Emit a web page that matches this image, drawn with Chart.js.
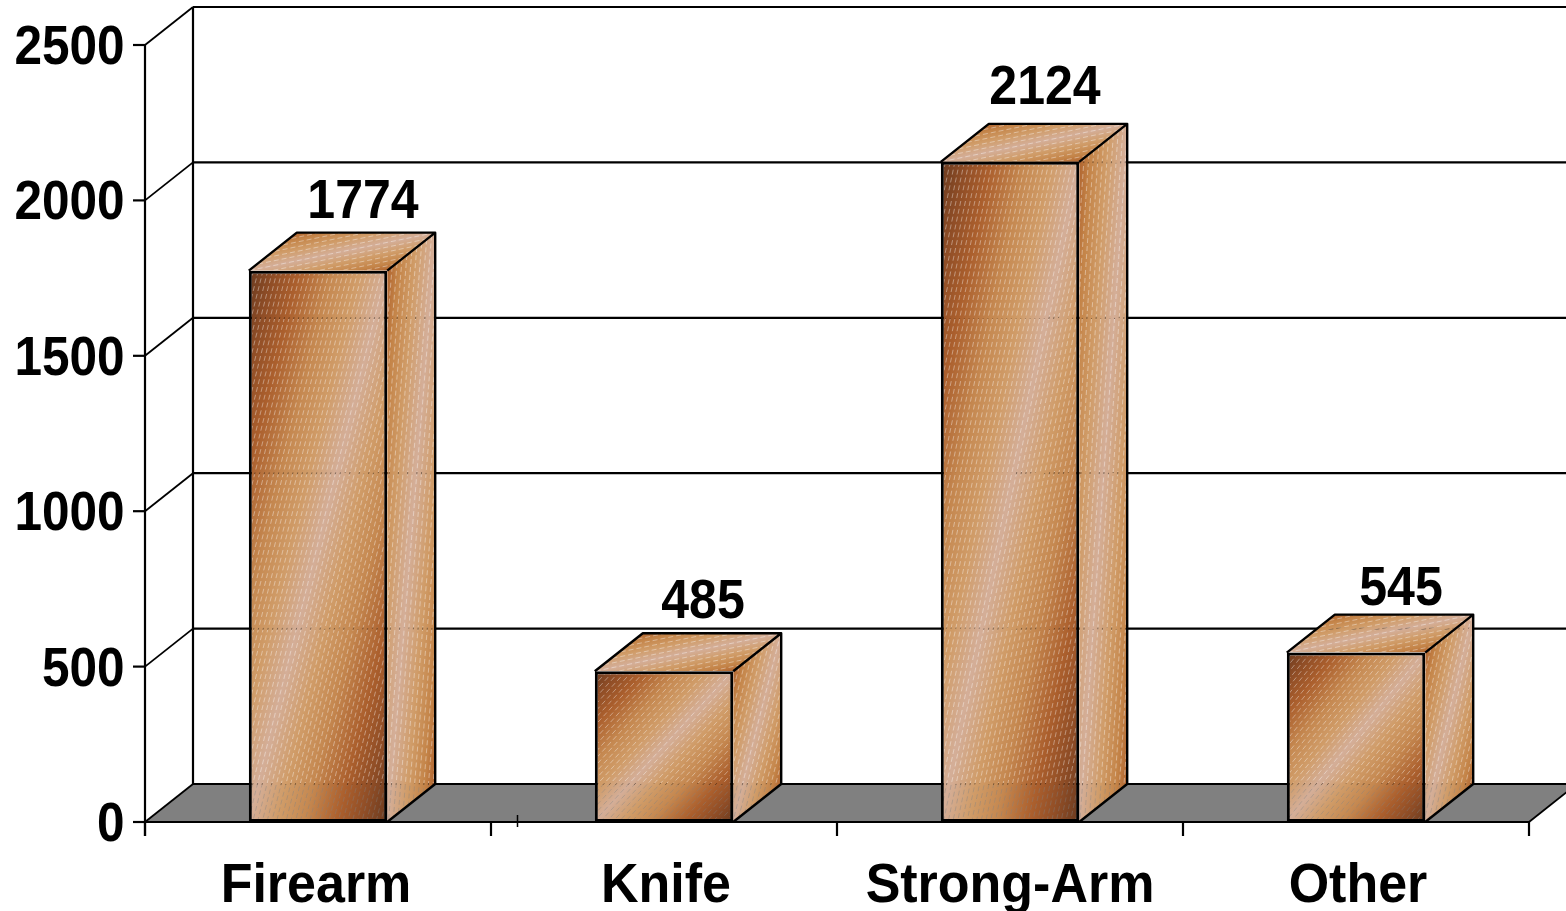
<!DOCTYPE html>
<html>
<head>
<meta charset="utf-8">
<style>html,body{margin:0;padding:0;background:#fff}canvas{display:block}</style>
<script src="https://cdn.jsdelivr.net/npm/chart.js@4"></script>
</head>
<body>
<canvas id="c" width="1566" height="911"></canvas>
<script>
const categories = ['Firearm', 'Knife', 'Strong-Arm', 'Other'];
const values = [1774, 485, 2124, 545];
const yTicks = [0, 500, 1000, 1500, 2000, 2500];

const DX = 48, DY = 38, BAR_PCT = 0.4;
const FONT = 'bold 55px "Liberation Sans", Arial, sans-serif';
const valueLabelShift = [[45, 0], [39, 0], [35, -5], [45, 5]];
const categoryShift = [-2, 2, 0, 2];
const frontStops = [[0, '#6a3a1f'], [.09, '#8f4d26'], [.18, '#ab5f2d'], [.3, '#c58850'], [.4, '#d09c68'], [.5, '#d4ae98'], [.6, '#d09c68'], [.7, '#c58850'], [.82, '#ab5f2d'], [.91, '#8f4d26'], [1, '#6a3a1f']];
const faceStops = [[0, '#b0642f'], [.12, '#c48448'], [.3, '#d09c68'], [.5, '#d4ae98'], [.7, '#d09c68'], [.88, '#c48448'], [1, '#b0642f']];

function paintFace(g, p00, p10, p01, stops) {
  const u = [p10[0] - p00[0], p10[1] - p00[1]], v = [p01[0] - p00[0], p01[1] - p00[1]];
  g.save();
  g.beginPath();
  g.moveTo(p00[0], p00[1]); g.lineTo(p10[0], p10[1]);
  g.lineTo(p10[0] + v[0], p10[1] + v[1]); g.lineTo(p01[0], p01[1]);
  g.closePath(); g.clip();
  g.save();
  g.transform(u[0], u[1], v[0], v[1], p00[0], p00[1]);
  const gr = g.createLinearGradient(0, 0, 1, 1);
  stops.forEach(s => gr.addColorStop(s[0], s[1]));
  g.fillStyle = gr;
  g.fillRect(0, 0, 1, 1);
  g.restore();
  // dashes are holes in the face: whatever lies behind shows through them
  const at = (a, b) => [p00[0] + a * u[0] + b * v[0], p00[1] + a * u[1] + b * v[1]];
  const cross = Math.abs(u[0] * v[1] - u[1] * v[0]);
  const ds = 4.6 * Math.hypot(u[0] - v[0], u[1] - v[1]) / cross;
  g.globalCompositeOperation = 'destination-out';
  g.strokeStyle = 'rgba(0,0,0,.38)';
  g.lineWidth = 1;
  g.setLineDash([5, 3]);
  for (let s = ds; s < 2; s += ds) {
    const a = s <= 1 ? at(s, 0) : at(1, s - 1), b = s <= 1 ? at(0, s) : at(s - 1, 1);
    g.beginPath(); g.moveTo(a[0], a[1]); g.lineTo(b[0], b[1]); g.stroke();
  }
  g.restore();
}

function layer(chart) {
  const cv = document.createElement('canvas');
  cv.width = chart.width; cv.height = chart.height;
  return cv;
}

const frontCache = {};
function frontFill(ctx) {
  if (ctx.type !== 'data') return 'transparent';
  const chart = ctx.chart, x = chart.scales.x, y = chart.scales.y;
  if (!x || !y || !chart.chartArea) return 'transparent';
  const w = (x.getPixelForValue(1) - x.getPixelForValue(0)) * BAR_PCT;
  const cx = x.getPixelForValue(ctx.dataIndex), top = y.getPixelForValue(values[ctx.dataIndex]), base = y.getPixelForValue(0);
  const key = [cx, top, base, w].join();
  if (frontCache[key]) return frontCache[key];
  const cv = layer(chart);
  paintFace(cv.getContext('2d'), [cx - w / 2, top], [cx + w / 2, top], [cx - w / 2, base], frontStops);
  return (frontCache[key] = chart.ctx.createPattern(cv, 'no-repeat'));
}

function line(g, x1, y1, x2, y2, lw) {
  g.lineWidth = lw;
  g.beginPath(); g.moveTo(x1, y1); g.lineTo(x2, y2); g.stroke();
}

function squeezedText(g, text, x, baseline, align, squeeze) {
  g.save();
  g.font = FONT; g.fillStyle = '#000'; g.textAlign = align; g.textBaseline = 'alphabetic';
  g.translate(x, baseline); g.scale(squeeze, 1);
  g.fillText(text, 0, 0);
  g.restore();
}

const box3d = {
  id: 'box3d',
  beforeDatasetsDraw(chart) {
    const g = chart.ctx, X = chart.scales.x, Y = chart.scales.y;
    const L = X.left, R = X.right, y0 = Y.getPixelForValue(0), yMax = Y.getPixelForValue(yTicks[yTicks.length - 1]);
    g.save();
    g.strokeStyle = '#000';
    // floor
    g.fillStyle = '#808080';
    g.beginPath();
    g.moveTo(L, y0); g.lineTo(L + DX, y0 - DY); g.lineTo(R + DX, y0 - DY); g.lineTo(R, y0); g.closePath(); g.fill();
    // walls, grid and tick marks
    yTicks.forEach(t => {
      const py = Y.getPixelForValue(t);
      line(g, L - 12, py, L, py, 2.2);
      line(g, L, py, L + DX, py - DY, 1.8);
      line(g, L + DX, py - DY, chart.width, py - DY, 2.2);
    });
    line(g, L, yMax, L, y0 + 14, 2.2);
    line(g, L + DX, yMax - DY, L + DX, y0 - DY, 2.2);
    line(g, L, y0, R, y0, 2.2);
    line(g, R, y0, R + DX, y0 - DY, 1.8);
    categories.concat(['']).forEach((c, i) => {
      const px = L + (R - L) * i / categories.length;
      line(g, px, y0, px, y0 + 14, 2.2);
    });
    line(g, 517.5, y0 - 7, 517.5, y0 + 5, 1.5);
    // side and top faces
    const cv = layer(chart), l = cv.getContext('2d');
    chart.getDatasetMeta(0).data.forEach(b => {
      const a = b.x - b.width / 2, c = b.x + b.width / 2;
      paintFace(l, [c, b.y], [c + DX, b.y - DY], [c, b.base], faceStops);
      paintFace(l, [a + DX, b.y - DY], [c + DX, b.y - DY], [a, b.y], faceStops);
    });
    g.drawImage(cv, 0, 0);
    chart.getDatasetMeta(0).data.forEach(b => {
      const a = b.x - b.width / 2, c = b.x + b.width / 2;
      g.lineWidth = 2.4; g.lineJoin = 'round';
      g.beginPath();
      g.moveTo(a, b.y); g.lineTo(a + DX, b.y - DY); g.lineTo(c + DX, b.y - DY);
      g.lineTo(c + DX, b.base - DY); g.lineTo(c, b.base);
      g.moveTo(c, b.y); g.lineTo(c + DX, b.y - DY);
      g.stroke();
    });
    g.restore();
  },
  afterDatasetsDraw(chart) {
    const g = chart.ctx, X = chart.scales.x, Y = chart.scales.y;
    yTicks.forEach(t => squeezedText(g, String(t), 124.5, Y.getPixelForValue(t) + 19, 'right', 0.9));
    categories.forEach((c, i) => squeezedText(g, c, X.getPixelForValue(i) + categoryShift[i], Y.bottom + 80, 'center', 0.945));
    chart.getDatasetMeta(0).data.forEach((b, i) => {
      const s = valueLabelShift[i];
      squeezedText(g, String(values[i]), b.x + s[0], b.y - DY - 15 + s[1], 'center', 0.91);
    });
  }
};

new Chart(document.getElementById('c'), {
  type: 'bar',
  data: {
    labels: categories,
    datasets: [{
      data: values,
      backgroundColor: frontFill,
      borderColor: '#000',
      borderWidth: 3,
      borderSkipped: false,
      barPercentage: BAR_PCT,
      categoryPercentage: 1
    }]
  },
  options: {
    responsive: false,
    animation: false,
    events: [],
    layout: { padding: { left: 145, right: 37, top: 45, bottom: 89 } },
    plugins: { legend: { display: false }, tooltip: { enabled: false }, title: { display: false } },
    scales: {
      x: { grid: { display: false, drawTicks: false, tickLength: 0 }, border: { display: false }, ticks: { display: false } },
      y: { min: 0, max: 2500, grid: { display: false, drawTicks: false, tickLength: 0 }, border: { display: false }, ticks: { display: false, stepSize: 500 } }
    }
  },
  plugins: [box3d]
});
</script>
</body>
</html>
